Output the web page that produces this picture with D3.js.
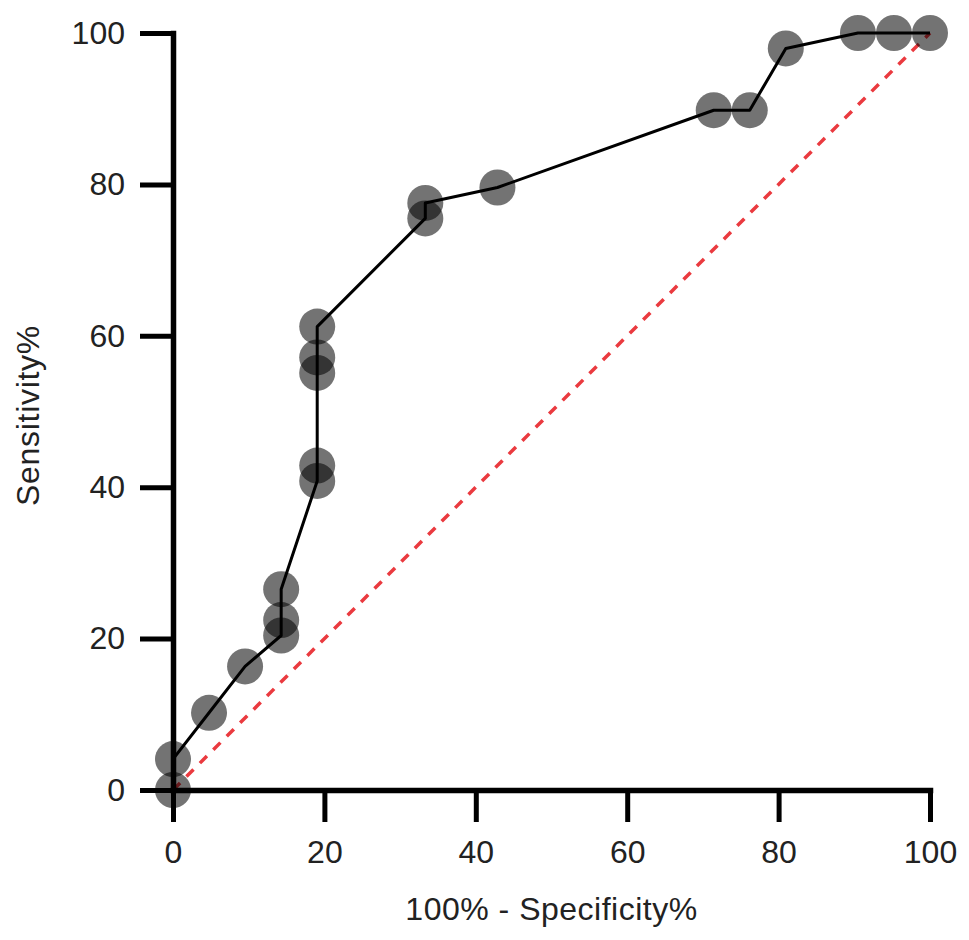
<!DOCTYPE html>
<html>
<head>
<meta charset="utf-8">
<script src="https://cdn.jsdelivr.net/npm/d3@7"></script>
<style>
  html, body { margin: 0; padding: 0; background: #fff; }
  svg { display: block; }
  text { font-family: "Liberation Sans", Arial, Helvetica, sans-serif; }
</style>
</head>
<body>
<svg id="chart" width="969" height="940"></svg>
<script>
// 100% - Specificity% values
const specificity = [0, 0, 4.76, 9.52, 14.29, 14.29, 14.29, 19.05, 19.05, 19.05, 19.05, 19.05, 33.33, 33.33, 42.86, 71.43, 76.19, 80.95, 90.48, 95.24, 100];
// Sensitivity% values
const sensitivity = [0, 4.08, 10.2, 16.33, 20.41, 22.45, 26.53, 40.82, 42.86, 55.1, 57.14, 61.22, 75.51, 77.55, 79.59, 89.8, 89.8, 97.96, 100, 100, 100];
const xTicks = [0, 20, 40, 60, 80, 100];
const yTicks = [0, 20, 40, 60, 80, 100];
const refLine = [[0, 0], [100, 100]];
const xTitle = "100% - Specificity%";
const yTitle = "Sensitivity%";

const svg = d3.select("#chart");
const x = d3.scaleLinear().domain([0, 100]).range([173, 930]);
const y = d3.scaleLinear().domain([0, 100]).range([790, 33]);

const pts = specificity.map((v, i) => [v, sensitivity[i]]);

// reference diagonal
svg.append("path")
  .datum(refLine)
  .attr("d", d3.line().x(d => x(d[0])).y(d => y(d[1])))
  .attr("fill", "none")
  .attr("stroke", "#ea3a3f")
  .attr("stroke-width", 3.5)
  .attr("stroke-dasharray", "10,9");

// axes
const axisStyle = g => {
  g.select(".domain").attr("stroke", "#000").attr("stroke-width", 5.5).attr("stroke-linecap", "square");
  g.selectAll(".tick line").attr("stroke", "#000").attr("stroke-width", 5);
  g.selectAll(".tick text").attr("font-size", 32).attr("fill", "#222")
    .attr("font-family", "'Liberation Sans', Arial, sans-serif");
};

svg.append("g")
  .attr("transform", `translate(0,${y(0)})`)
  .call(d3.axisBottom(x).tickValues(xTicks).tickSize(32).tickSizeOuter(0).tickPadding(18).tickFormat(d3.format("d")))
  .call(axisStyle);

svg.append("g")
  .attr("transform", `translate(${x(0)},0)`)
  .call(d3.axisLeft(y).tickValues(yTicks).tickSize(33).tickSizeOuter(0).tickPadding(15).tickFormat(d3.format("d")))
  .call(axisStyle);

// points
svg.append("g").selectAll("circle")
  .data(pts)
  .join("circle")
  .attr("cx", d => x(d[0]))
  .attr("cy", d => y(d[1]))
  .attr("r", 18)
  .attr("fill", "rgba(0,0,0,0.55)");

// ROC line
svg.append("path")
  .datum(pts)
  .attr("d", d3.line().x(d => x(d[0])).y(d => y(d[1])))
  .attr("fill", "none")
  .attr("stroke", "#000")
  .attr("stroke-width", 3)
  .attr("stroke-linejoin", "round");

// titles
svg.append("text")
  .attr("x", (x(0) + x(100)) / 2)
  .attr("y", 920)
  .attr("text-anchor", "middle")
  .attr("font-size", 32)
  .attr("letter-spacing", 0.5)
  .attr("fill", "#222")
  .text(xTitle);

svg.append("text")
  .attr("transform", `translate(39,${(y(0) + y(100)) / 2 + 4}) rotate(-90)`)
  .attr("text-anchor", "middle")
  .attr("font-size", 32)
  .attr("letter-spacing", 0.7)
  .attr("fill", "#222")
  .text(yTitle);
</script>
</body>
</html>
